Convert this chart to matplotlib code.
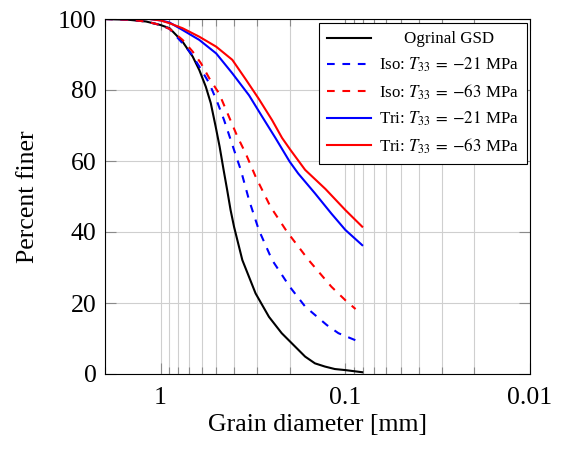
import matplotlib
matplotlib.use("Agg")
import matplotlib.pyplot as plt
from matplotlib.ticker import FixedLocator, FixedFormatter, LogLocator, NullFormatter
from matplotlib.transforms import Affine2D

plt.rcParams['font.family'] = ['Liberation Serif', 'DejaVu Serif']
plt.rcParams['mathtext.fontset'] = 'stix'

# ---- data (grain diameter in mm, percent finer) ----
d_orig = [2.0, 1.5, 1.2, 1.0, 0.894, 0.76, 0.67, 0.617, 0.569, 0.535, 0.503, 0.479,
          0.456, 0.436, 0.418, 0.400, 0.361, 0.306, 0.259, 0.221, 0.165, 0.146,
          0.129, 0.114, 0.10, 0.081]
p_orig = [100, 99.8, 99.3, 98.3, 97.4, 93.6, 89.4, 85.6, 80.9, 76.3, 69.6, 64.0,
          57.5, 51.8, 46.2, 41.4, 32.1, 22.7, 16.1, 11.5, 4.9, 3.0,
          2.1, 1.4, 1.1, 0.5]

d_iso21 = [2.0, 1.5, 1.2, 1.0, 0.894, 0.774, 0.684, 0.617, 0.545, 0.49, 0.453, 0.417,
           0.384, 0.368, 0.332, 0.294, 0.249, 0.2, 0.165, 0.126, 0.109, 0.088]
p_iso21 = [100, 99.8, 99.3, 98.3, 97.2, 93.6, 90.3, 86.6, 81.9, 76.2, 71.5, 65.9,
           60.3, 57.5, 49.0, 40.6, 32.1, 24.6, 19.0, 13.8, 11.5, 9.5]

d_iso63 = [2.0, 1.5, 1.2, 1.0, 0.894, 0.76, 0.67, 0.604, 0.545, 0.482, 0.434, 0.384,
           0.346, 0.306, 0.254, 0.207, 0.158, 0.119, 0.1, 0.088]
p_iso63 = [100, 99.8, 99.3, 98.3, 97.2, 94.1, 90.8, 87.5, 83.3, 79.0, 73.4, 66.9,
           62.1, 55.6, 47.1, 40.1, 32.1, 24.6, 20.8, 18.3]

d_tri21 = [2.0, 1.15, 1.0, 0.894, 0.76, 0.617, 0.50, 0.409, 0.332, 0.282, 0.239,
           0.20, 0.18, 0.146, 0.119, 0.1, 0.081]
p_tri21 = [100, 100, 99.6, 99.0, 96.9, 94.1, 90.3, 84.7, 78.5, 72.5, 66.5,
           59.8, 56.5, 50.9, 45.2, 40.6, 36.3]

d_tri63 = [2.0, 1.15, 1.0, 0.894, 0.76, 0.617, 0.50, 0.409, 0.346, 0.294, 0.249,
           0.22, 0.198, 0.165, 0.128, 0.1, 0.081]
p_tri63 = [100, 100, 99.6, 98.8, 97.4, 95.0, 92.2, 88.5, 83.0, 77.5, 71.5,
           66.5, 63.1, 57.5, 52.1, 46.2, 41.5]

labels = ['Ogrinal GSD',
          r'Iso: $T_{33}\:=\:-21$ MPa',
          r'Iso: $T_{33}\:=\:-63$ MPa',
          r'Tri: $T_{33}\:=\:-21$ MPa',
          r'Tri: $T_{33}\:=\:-63$ MPa']

x_ticks = [1, 0.1, 0.01]
x_ticklabels = ['1', '0.1', '0.01']
y_ticks = [0, 20, 40, 60, 80, 100]

# ---- figure ----
W, H = 561, 450
fig = plt.figure(figsize=(W / 100, H / 100), dpi=100)
L, R, T, B = 105, 530, 19, 374
ax = fig.add_axes([L / W, 1 - B / H, (R - L) / W, (B - T) / H])

lw = 1.5
dash = (0, (3.7, 3.7))
ax.plot(d_orig, p_orig, color='black', lw=lw, label=labels[0])
ax.plot(d_iso21, p_iso21, color='blue', lw=lw, ls=dash, label=labels[1])
ax.plot(d_iso63, p_iso63, color='red', lw=lw, ls=dash, label=labels[2])
ax.plot(d_tri21, p_tri21, color='blue', lw=lw, label=labels[3])
ax.plot(d_tri63, p_tri63, color='red', lw=lw, label=labels[4])

ax.set_xscale('log')
ax.set_xlim(2, 0.01)
ax.set_ylim(0, 100)

ax.xaxis.set_major_locator(FixedLocator(x_ticks))
ax.xaxis.set_major_formatter(FixedFormatter(x_ticklabels))
ax.xaxis.set_minor_locator(LogLocator(base=10, subs=range(2, 10)))
ax.xaxis.set_minor_formatter(NullFormatter())
ax.yaxis.set_major_locator(FixedLocator(y_ticks))

grid_c = '#cfcfcf'
ax.grid(True, which='major', axis='both', color=grid_c, lw=0.8, zorder=0)
ax.grid(True, which='minor', axis='x', color=grid_c, lw=0.8, zorder=0)
ax.set_axisbelow(True)

tick_c = '#8a8a8a'
ax.tick_params(which='major', direction='in', length=8, width=0.8, color=tick_c,
               top=True, right=True, labelsize=18.5, pad=9)
ax.tick_params(which='minor', direction='in', length=5, width=0.8, color=tick_c,
               top=True, right=True)
ax.tick_params(axis='y', which='major', pad=6)

for s in ax.spines.values():
    s.set_linewidth(0.8)
    s.set_color('black')

ax.set_xlabel('Grain diameter [mm]', fontsize=18.5)
ax.set_ylabel('Percent finer', fontsize=18.5)
ax.xaxis.set_label_coords(0.5, -0.112)
ax.yaxis.set_label_coords(-0.156, 0.5)

leg = ax.legend(loc='upper right', bbox_to_anchor=((527 - L) / (R - L), (B - 23) / (B - T)),
                borderaxespad=0, fontsize=12.2, frameon=True, fancybox=False,
                edgecolor='black', framealpha=1, handlelength=2.6, handletextpad=0.45,
                labelspacing=0.48, borderpad=0.5)
leg.get_frame().set_linewidth(0.8)

# center the first legend entry's text within the text column (as in the reference)
fig.canvas.draw()
r = fig.canvas.get_renderer()
texts = leg.get_texts()
widths = [t.get_window_extent(r).width for t in texts]
dx = (max(widths) - widths[0]) / 2
texts[0].set_transform(texts[0].get_transform() + Affine2D().translate(dx, 0))

fig.savefig('out.png', dpi=100)
